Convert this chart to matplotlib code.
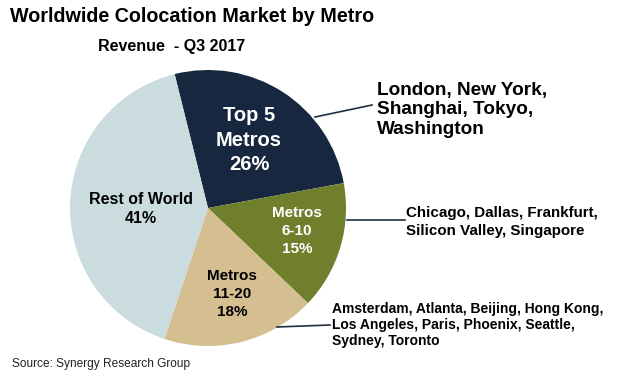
import matplotlib.pyplot as plt

plt.rcParams['font.family'] = ['Liberation Sans', 'DejaVu Sans']

segments = ['Top 5\nMetros', 'Metros\n6-10', 'Metros\n11-20', 'Rest of World']
shares = [26, 15, 18, 41]
colors = ['#17273f', '#6f7f2b', '#d5bf91', '#cadcdd']
text_colors = ['white', 'white', 'black', 'black']
metro_lists = ['London, New York,\nShanghai, Tokyo,\nWashington',
               'Chicago, Dallas, Frankfurt,\nSilicon Valley, Singapore',
               'Amsterdam, Atlanta, Beijing, Hong Kong,\nLos Angeles, Paris, Phoenix, Seattle,\nSydney, Toronto']

W, H = 631, 374
fig = plt.figure(figsize=(W / 100, H / 100), dpi=100)

# pie centre / radius in pixels (from top-left)
cx, cy, r = 208, 208, 138
ax = fig.add_axes([(cx - r) / W, (H - cy - r) / H, 2 * r / W, 2 * r / H])
ax.pie(shares, colors=colors, startangle=104, counterclock=False, radius=1,
       wedgeprops=dict(linewidth=0))
ax.set_xlim(-1, 1)
ax.set_ylim(-1, 1)
ax.set_aspect('equal')
ax.axis('off')


def px(x, y):
    return ((x - cx) / r, (cy - y) / r)


# labels inside wedges (pixel positions of label centres)
label_pos = [(249, 140), (297, 231), (232, 294), (141, 209)]
label_size = [14.5, 11, 11, 11.5]
label_spacing = [1.35, 1.33, 1.38, 1.3]
for name, val, p, c, s, ls in zip(segments, shares, label_pos, text_colors, label_size, label_spacing):
    x, y = px(*p)
    ax.text(x, y, f'{name}\n{val}%', ha='center', va='center', color=c,
            fontsize=s, fontweight='bold', linespacing=ls)

# leader lines and metro lists
lines = [((315, 117), (372, 105)), ((347, 220), (405, 220)), ((277, 327), (330, 325))]
for (p0, p1) in lines:
    a, b = px(*p0), px(*p1)
    ax.plot([a[0], b[0]], [a[1], b[1]], color='#1f2d45', lw=1.2, clip_on=False)

fig.text(377 / W, 1 - 110 / H, metro_lists[0], ha='left', va='center',
         fontsize=13.7, fontweight='bold', linespacing=1.23)
fig.text(406 / W, 1 - 222 / H, metro_lists[1], ha='left', va='center',
         fontsize=10.9, fontweight='bold', linespacing=1.3)
fig.text(332 / W, 1 - 325 / H, metro_lists[2], ha='left', va='center',
         fontsize=10, fontweight='bold', linespacing=1.19)

fig.text(10 / W, 1 - 17 / H, 'Worldwide Colocation Market by Metro', ha='left', va='center',
         fontsize=14.2, fontweight='bold')
fig.text(172 / W, 1 - 47 / H, 'Revenue  - Q3 2017', ha='center', va='center',
         fontsize=11.5, fontweight='bold')
fig.text(12 / W, 1 - 364 / H, 'Source: Synergy Research Group', ha='left', va='center',
         fontsize=8.6, color='#222222')

fig.savefig('out.png', dpi=100)
